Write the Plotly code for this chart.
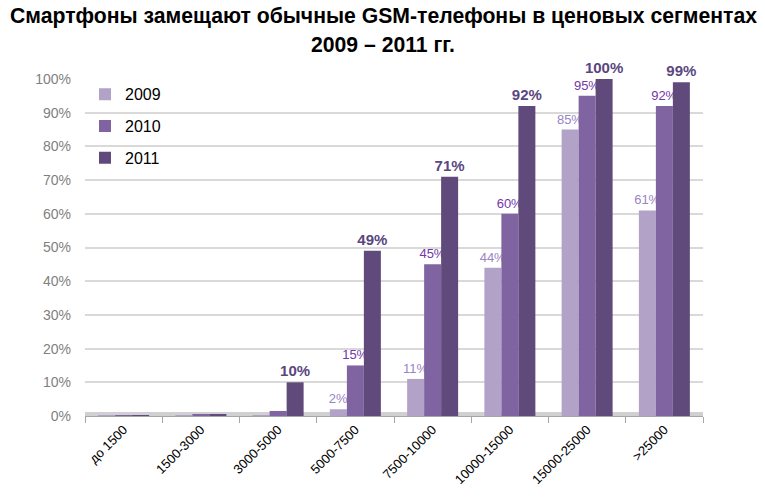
import plotly.graph_objects as go

categories = ["до 1500", "1500-3000", "3000-5000", "5000-7500", "7500-10000",
              "10000-15000", "15000-25000", ">25000"]
v2009 = [0.1, 0.2, 0.2, 2, 11, 44, 85, 61]
v2010 = [0.2, 0.3, 1.5, 15, 45, 60, 95, 92]
v2011 = [0.2, 0.3, 10, 49, 71, 92, 100, 99]
lbl2009 = ["", "", "", "2%", "11%", "44%", "85%", "61%"]
lbl2010 = ["", "", "", "15%", "45%", "60%", "95%", "92%"]
lbl2011 = ["", "", "10%", "49%", "71%", "92%", "100%", "99%"]

series = [
    ("2009", v2009, lbl2009, "#b3a2c7", "#9a84c4", 13, False),
    ("2010", v2010, lbl2010, "#8064a2", "#7436a8", 13, False),
    ("2011", v2011, lbl2011, "#604a7b", "#5a4680", 15, True),
]

fig = go.Figure()
for i, (name, vals, lbls, col, tcol, tsize, bold) in enumerate(series):
    fig.add_trace(go.Bar(
        x=categories, y=[v / 100 for v in vals], name=name,
        marker=dict(color=col, line=dict(width=0)),
        text=[("<b>%s</b>" % t if (bold and t) else t) for t in lbls],
        textposition="outside", constraintext="none",
        textfont=dict(color=tcol, size=tsize, family="Liberation Sans"),
        cliponaxis=False,
        legendgroup=name,
    ))

fig.update_layout(
    width=765, height=498,
    margin=dict(l=85, r=62, t=79, b=82),
    paper_bgcolor="white", plot_bgcolor="white",
    barmode="group", bargap=0.34, bargroupgap=0,
    legend=dict(
        x=0.0, y=1.005, xanchor="left", yanchor="top", itemwidth=30,
        font=dict(family="Liberation Sans", size=16, color="#000000"),
        bgcolor="rgba(0,0,0,0)", tracegroupgap=8,
    ),
    annotations=[
        dict(text="<b>Смартфоны замещают обычные GSM-телефоны в ценовых сегментах</b>",
             xref="paper", yref="paper", x=(383 - 85) / 618, y=1 + (79 - 16) / 337,
             xanchor="center", yanchor="middle", showarrow=False,
             font=dict(family="Liberation Sans", size=21.2, color="#000000")),
        dict(text="<b>2009 – 2011 гг.</b>",
             xref="paper", yref="paper", x=(383 - 85) / 618, y=1 + (79 - 44) / 337,
             xanchor="center", yanchor="middle", showarrow=False,
             font=dict(family="Liberation Sans", size=21.2, color="#000000")),
    ],
)
fig.update_yaxes(
    range=[0, 1.0], tickformat=".0%", dtick=0.1, automargin=False,
    showgrid=True, gridcolor="#d9d9d9", gridwidth=1.5,
    zeroline=False, showline=False, ticks="", ticklabelstandoff=13,
    tickfont=dict(family="Liberation Sans", size=14, color="#7f7f7f"),
)
fig.update_xaxes(
    showline=True, linecolor="#a6a6a6", linewidth=1, automargin=False,
    ticks="outside", tickson="boundaries", ticklen=6, tickcolor="#a6a6a6",
    tickangle=-45,
    tickfont=dict(family="Liberation Sans", size=13, color="#000000"),
)
# 3D-like floor strip
fig.add_shape(type="rect", xref="paper", yref="y", x0=0, x1=1.0, y0=-0.006, y1=0.012,
              fillcolor="#d0d0d0", line=dict(width=0), layer="below")

fig.write_html("out.html", config={"displayModeBar": False},
               post_script="document.body.style.margin='0';document.body.style.overflow='hidden';")
